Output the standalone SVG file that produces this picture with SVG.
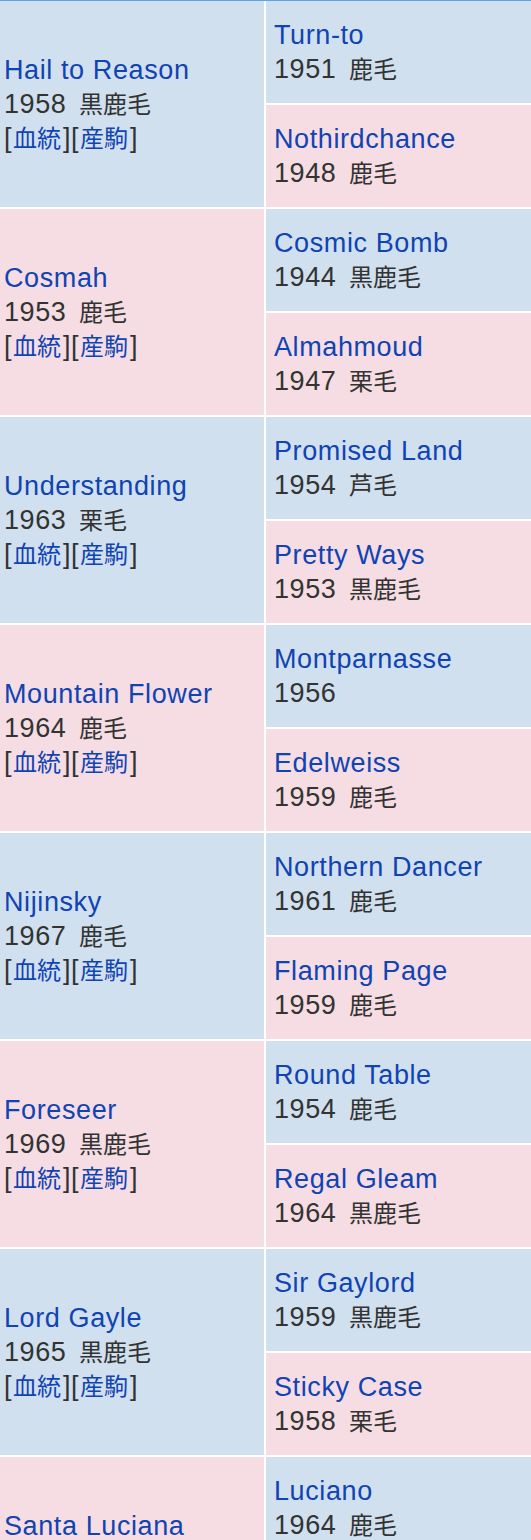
<svg xmlns="http://www.w3.org/2000/svg" width="531" height="1540" viewBox="0 0 531 1540">
<style>
.b{fill:#d0e0ee}
.p{fill:#f5dde3}
text{font-family:"Liberation Sans","Noto Sans CJK JP",sans-serif;font-size:27px;letter-spacing:0.6px}
.n{fill:#1043b3}
.y{fill:#333333}
.j{font-family:"Noto Sans CJK JP",sans-serif;font-size:24px;letter-spacing:0}
.l{fill:#1043b3}
</style>
<rect x="0" y="0" width="531" height="1540" fill="#ffffff"/>
<rect x="0" y="0" width="531" height="1" fill="#5aa5e8"/>

<g id="hail-to-reason"><rect class="b" x="0" y="1" width="264" height="206"/>
<text class="n" x="4" y="78.5">Hail to Reason</text>
<text class="y" y="112.5"><tspan x="4">1958</tspan><tspan class="j" x="79">黒鹿毛</tspan></text>
<text class="y" y="146.5"><tspan x="4">[</tspan><tspan class="j l" x="13">血統</tspan><tspan x="63">]</tspan><tspan x="71">[</tspan><tspan class="j l" x="80">産駒</tspan><tspan x="130">]</tspan></text></g>

<g id="cosmah"><rect class="p" x="0" y="209" width="264" height="206"/>
<text class="n" x="4" y="286.5">Cosmah</text>
<text class="y" y="320.5"><tspan x="4">1953</tspan><tspan class="j" x="79">鹿毛</tspan></text>
<text class="y" y="354.5"><tspan x="4">[</tspan><tspan class="j l" x="13">血統</tspan><tspan x="63">]</tspan><tspan x="71">[</tspan><tspan class="j l" x="80">産駒</tspan><tspan x="130">]</tspan></text></g>

<g id="understanding"><rect class="b" x="0" y="417" width="264" height="206"/>
<text class="n" x="4" y="494.5">Understanding</text>
<text class="y" y="528.5"><tspan x="4">1963</tspan><tspan class="j" x="79">栗毛</tspan></text>
<text class="y" y="562.5"><tspan x="4">[</tspan><tspan class="j l" x="13">血統</tspan><tspan x="63">]</tspan><tspan x="71">[</tspan><tspan class="j l" x="80">産駒</tspan><tspan x="130">]</tspan></text></g>

<g id="mountain-flower"><rect class="p" x="0" y="625" width="264" height="206"/>
<text class="n" x="4" y="702.5">Mountain Flower</text>
<text class="y" y="736.5"><tspan x="4">1964</tspan><tspan class="j" x="79">鹿毛</tspan></text>
<text class="y" y="770.5"><tspan x="4">[</tspan><tspan class="j l" x="13">血統</tspan><tspan x="63">]</tspan><tspan x="71">[</tspan><tspan class="j l" x="80">産駒</tspan><tspan x="130">]</tspan></text></g>

<g id="nijinsky"><rect class="b" x="0" y="833" width="264" height="206"/>
<text class="n" x="4" y="910.5">Nijinsky</text>
<text class="y" y="944.5"><tspan x="4">1967</tspan><tspan class="j" x="79">鹿毛</tspan></text>
<text class="y" y="978.5"><tspan x="4">[</tspan><tspan class="j l" x="13">血統</tspan><tspan x="63">]</tspan><tspan x="71">[</tspan><tspan class="j l" x="80">産駒</tspan><tspan x="130">]</tspan></text></g>

<g id="foreseer"><rect class="p" x="0" y="1041" width="264" height="206"/>
<text class="n" x="4" y="1118.5">Foreseer</text>
<text class="y" y="1152.5"><tspan x="4">1969</tspan><tspan class="j" x="79">黒鹿毛</tspan></text>
<text class="y" y="1186.5"><tspan x="4">[</tspan><tspan class="j l" x="13">血統</tspan><tspan x="63">]</tspan><tspan x="71">[</tspan><tspan class="j l" x="80">産駒</tspan><tspan x="130">]</tspan></text></g>

<g id="lord-gayle"><rect class="b" x="0" y="1249" width="264" height="206"/>
<text class="n" x="4" y="1326.5">Lord Gayle</text>
<text class="y" y="1360.5"><tspan x="4">1965</tspan><tspan class="j" x="79">黒鹿毛</tspan></text>
<text class="y" y="1394.5"><tspan x="4">[</tspan><tspan class="j l" x="13">血統</tspan><tspan x="63">]</tspan><tspan x="71">[</tspan><tspan class="j l" x="80">産駒</tspan><tspan x="130">]</tspan></text></g>

<g id="santa-luciana"><rect class="p" x="0" y="1457" width="264" height="83"/>
<text class="n" x="4" y="1534.5">Santa Luciana</text></g>

<g id="turn-to"><rect class="b" x="266" y="1" width="265" height="102"/>
<text class="n" x="274" y="43.5">Turn-to</text>
<text class="y" y="77.5"><tspan x="274">1951</tspan><tspan class="j" x="349">鹿毛</tspan></text></g>

<g id="nothirdchance"><rect class="p" x="266" y="105" width="265" height="102"/>
<text class="n" x="274" y="147.5">Nothirdchance</text>
<text class="y" y="181.5"><tspan x="274">1948</tspan><tspan class="j" x="349">鹿毛</tspan></text></g>

<g id="cosmic-bomb"><rect class="b" x="266" y="209" width="265" height="102"/>
<text class="n" x="274" y="251.5">Cosmic Bomb</text>
<text class="y" y="285.5"><tspan x="274">1944</tspan><tspan class="j" x="349">黒鹿毛</tspan></text></g>

<g id="almahmoud"><rect class="p" x="266" y="313" width="265" height="102"/>
<text class="n" x="274" y="355.5">Almahmoud</text>
<text class="y" y="389.5"><tspan x="274">1947</tspan><tspan class="j" x="349">栗毛</tspan></text></g>

<g id="promised-land"><rect class="b" x="266" y="417" width="265" height="102"/>
<text class="n" x="274" y="459.5">Promised Land</text>
<text class="y" y="493.5"><tspan x="274">1954</tspan><tspan class="j" x="349">芦毛</tspan></text></g>

<g id="pretty-ways"><rect class="p" x="266" y="521" width="265" height="102"/>
<text class="n" x="274" y="563.5">Pretty Ways</text>
<text class="y" y="597.5"><tspan x="274">1953</tspan><tspan class="j" x="349">黒鹿毛</tspan></text></g>

<g id="montparnasse"><rect class="b" x="266" y="625" width="265" height="102"/>
<text class="n" x="274" y="667.5">Montparnasse</text>
<text class="y" x="274" y="701.5">1956</text></g>

<g id="edelweiss"><rect class="p" x="266" y="729" width="265" height="102"/>
<text class="n" x="274" y="771.5">Edelweiss</text>
<text class="y" y="805.5"><tspan x="274">1959</tspan><tspan class="j" x="349">鹿毛</tspan></text></g>

<g id="northern-dancer"><rect class="b" x="266" y="833" width="265" height="102"/>
<text class="n" x="274" y="875.5">Northern Dancer</text>
<text class="y" y="909.5"><tspan x="274">1961</tspan><tspan class="j" x="349">鹿毛</tspan></text></g>

<g id="flaming-page"><rect class="p" x="266" y="937" width="265" height="102"/>
<text class="n" x="274" y="979.5">Flaming Page</text>
<text class="y" y="1013.5"><tspan x="274">1959</tspan><tspan class="j" x="349">鹿毛</tspan></text></g>

<g id="round-table"><rect class="b" x="266" y="1041" width="265" height="102"/>
<text class="n" x="274" y="1083.5">Round Table</text>
<text class="y" y="1117.5"><tspan x="274">1954</tspan><tspan class="j" x="349">鹿毛</tspan></text></g>

<g id="regal-gleam"><rect class="p" x="266" y="1145" width="265" height="102"/>
<text class="n" x="274" y="1187.5">Regal Gleam</text>
<text class="y" y="1221.5"><tspan x="274">1964</tspan><tspan class="j" x="349">黒鹿毛</tspan></text></g>

<g id="sir-gaylord"><rect class="b" x="266" y="1249" width="265" height="102"/>
<text class="n" x="274" y="1291.5">Sir Gaylord</text>
<text class="y" y="1325.5"><tspan x="274">1959</tspan><tspan class="j" x="349">黒鹿毛</tspan></text></g>

<g id="sticky-case"><rect class="p" x="266" y="1353" width="265" height="102"/>
<text class="n" x="274" y="1395.5">Sticky Case</text>
<text class="y" y="1429.5"><tspan x="274">1958</tspan><tspan class="j" x="349">栗毛</tspan></text></g>

<g id="luciano"><rect class="b" x="266" y="1457" width="265" height="83"/>
<text class="n" x="274" y="1499.5">Luciano</text>
<text class="y" y="1533.5"><tspan x="274">1964</tspan><tspan class="j" x="349">鹿毛</tspan></text></g>

<g id="connectors"/>
</svg>
